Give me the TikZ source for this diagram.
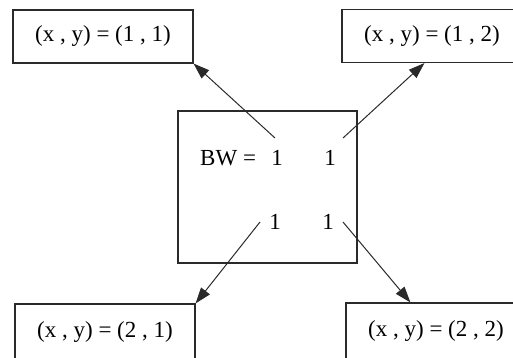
\documentclass[tikz,border=0pt]{standalone}
\usepackage{fontspec}
\setmainfont{Liberation Serif}
\usepackage{tikz}
\usetikzlibrary{arrows.meta, calc, positioning}
\definecolor{Ink}{HTML}{2A2A2A}

\begin{document}
\begin{tikzpicture}[x=1pt, y=-1pt,
    cell/.style={draw=Ink, line width=1.1pt, minimum width=180pt, minimum height=53pt,
      inner sep=0pt, text height=1.2em, text depth=0.2em, font=\fontsize{23}{27}\selectfont},
    lowcell/.style={cell, minimum height=60pt, text height=0.9em},
    ent/.style={anchor=base, inner sep=0pt, font=\fontsize{23}{27}\selectfont},
    link/.style={-{Triangle[length=16pt, width=11pt]}, line width=1pt, Ink}]
  \useasboundingbox (0,0) rectangle (513,357);
  % outer boxes
  \node[cell] (tl) at (103,36.5) {(x , y) = (1 , 1)};
  \node[cell] (tr) at (432,36) {(x , y) = (1 , 2)};
  \node[lowcell] (bl) at (105,334) {(x , y) = (2 , 1)};
  \node[lowcell] (br) at (436,333) {(x , y) = (2 , 2)};
  % matrix box
  \node[draw=Ink, line width=1.1pt, minimum width=179pt, minimum height=152pt] (bw) at (267.5,187) {};
  \node[ent, anchor=base west] (lbl) at (200,165) {BW =};
  \node[ent] (a11) at (277,165) {1};
  \node[ent] (a12) at (330,165) {1};
  \node[ent] (a21) at (275,229) {1};
  \node[ent] (a22) at (328,229) {1};
  \coordinate (s11) at (275,138);
  \coordinate (s12) at (343,138);
  \coordinate (s21) at (260,222);
  \coordinate (s22) at (343,222);
  \draw[link] (s11) -- (tl.south east);
  \draw[link] (s12) -- ([xshift=83pt]tr.south west);
  \draw[link] (s21) -- (bl.north east);
  \draw[link] (s22) -- ([xshift=65pt]br.north west);
\end{tikzpicture}
\end{document}
